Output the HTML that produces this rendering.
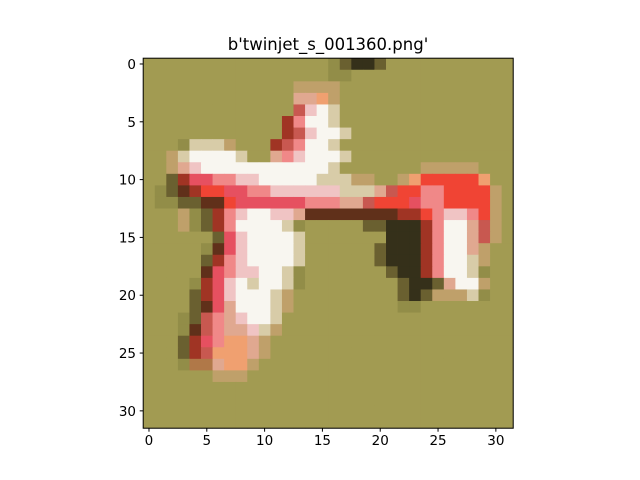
<!DOCTYPE html>
<html><head><meta charset="utf-8"><style>
html,body{margin:0;padding:0;background:#fff;}
svg{display:block;font-family:"DejaVu Sans","Liberation Sans",sans-serif;}
</style></head><body>
<svg id="fig" width="640" height="480" viewBox="0 0 640 480">
<text x="328" y="50" font-size="16.5" text-anchor="middle" fill="#000">b'twinjet_s_001360.png'</text>
<g id="img"></g>
<rect x="143.2" y="58.2" width="370" height="370" fill="none" stroke="#000" stroke-width="1"/>
<g id="xt"></g>
<g id="yt"></g>
</svg>
<script>
const palette = {'.':'#a29b52',',':'#928d48','k':'#35301a','n':'#6a6030','t':'#bfa06a','T':'#d8cca8','W':'#f8f6f0','p':'#f0c4c4','q':'#f08888','r':'#e65060','R':'#f04434','d':'#a03424','D':'#60301a','m':'#c85850','o':'#f0a070','s':'#e0a890','u':'#b07848'};
const pixelRows = [
"................,nkkn",
"................,,",
".............tttt",
".............ssot",
".............mpWT",
"............dqWWT",
"............dmpWWT",
"...,TTTt...dmqWWT",
"..tTWWWWT..sqpWWWT",
"..tspWWWWWWWWWWWT.......ttttt",
"..ndrrqqppWWWWWTTTtt..toRRRRRo",
".,nDdRRrrqqppppppTTTsmRRqqRRRRt",
".,,nnDDRrrrrrrqqqssmRRRrqqRRRRt",
"...t,ndqpWWppsDDDDDDDDddRqppqRt",
"...t,ndqWWWWT,.....nnkkkdqWWsmt",
"......nrpWWWWT.......kkkdqWWsmt",
".....,DrpWWWWT......nkkkdqWWst",
".....ndqpWWWWT......nkkkdqWWTt",
".....DrqppWWT,.......nkkdqWWT,",
"....,drpWTWWT,........nkknsWWt",
"....ndrpWWWTt.........nkntttT,",
"....nDrsWWWTt.........,,",
"...,nmqspWWT",
"...,DmqsspTt",
"...ndrqoost",
"...ndmooost",
"...,uusoot",
"......ttt",
"",
"",
"",
""
];
const xTicks = [0,5,10,15,20,25,30];
const yTicks = [0,5,10,15,20,25,30];
const NS='http://www.w3.org/2000/svg';
const X0=143.2, Y0=58.2, S=370/32;
function sx(v){return X0+(v+0.5)*S;}
function sy(v){return Y0+(v+0.5)*S;}
const g=document.getElementById('img');
for(let r=0;r<32;r++){
  const row=(pixelRows[r]||'').padEnd(32,'.');
  for(let c=0;c<32;c++){
    const el=document.createElementNS(NS,'rect');
    el.setAttribute('x',(X0+c*S).toFixed(2));
    el.setAttribute('y',(Y0+r*S).toFixed(2));
    el.setAttribute('width',(S+0.4).toFixed(2));
    el.setAttribute('height',(S+0.4).toFixed(2));
    el.setAttribute('fill',palette[row[c]]||palette['.']);
    
    
    g.appendChild(el);
  }
}
const xt=document.getElementById('xt');
xTicks.forEach(v=>{
  const l=document.createElementNS(NS,'line');
  l.setAttribute('x1',sx(v));l.setAttribute('x2',sx(v));
  l.setAttribute('y1',428.2);l.setAttribute('y2',431.7);
  l.setAttribute('stroke','#000');
  
  
  xt.appendChild(l);
  const t=document.createElementNS(NS,'text');
  t.setAttribute('x',sx(v));t.setAttribute('y',445);
  t.setAttribute('font-size','13.5');t.setAttribute('text-anchor','middle');
  t.textContent=v;
  
  
  xt.appendChild(t);
});
const yt=document.getElementById('yt');
yTicks.forEach(v=>{
  const l=document.createElementNS(NS,'line');
  l.setAttribute('x1',139.7);l.setAttribute('x2',143.2);
  l.setAttribute('y1',sy(v));l.setAttribute('y2',sy(v));
  l.setAttribute('stroke','#000');
  
  
  yt.appendChild(l);
  const t=document.createElementNS(NS,'text');
  t.setAttribute('x',136);t.setAttribute('y',sy(v)+5);
  t.setAttribute('font-size','13.5');t.setAttribute('text-anchor','end');
  t.textContent=v;
  
  
  yt.appendChild(t);
});
</script>
</body></html>
